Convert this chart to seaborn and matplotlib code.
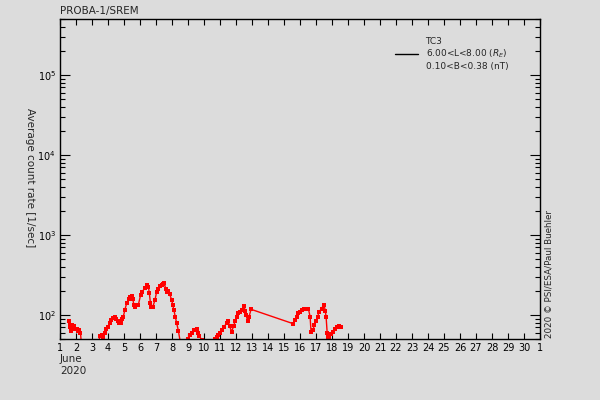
import numpy as np
import matplotlib
matplotlib.use("Agg")
import matplotlib.pyplot as plt
import matplotlib.ticker as mtick
import seaborn as sns

# day of June 2020 (fractional) and log10 of average count rate [1/sec]
days = [1.56, 1.60, 1.65, 1.70, 1.73, 1.78, 1.82, 1.88, 1.95, 2.05, 2.12, 2.20, 2.28, 2.35,
        2.8, 3.2,
        3.40, 3.50, 3.60, 3.70, 3.80, 3.90, 4.00, 4.10, 4.20, 4.30, 4.44, 4.50, 4.60, 4.70,
        4.80, 4.90, 4.96, 5.05, 5.17, 5.30, 5.40, 5.48, 5.55, 5.62, 5.69, 5.78, 5.90, 6.04,
        6.15, 6.30, 6.46, 6.52, 6.58, 6.65, 6.69, 6.80, 6.94, 7.04, 7.15, 7.25, 7.35, 7.45,
        7.52, 7.60, 7.67, 7.75, 7.85, 7.98, 8.05, 8.12, 8.20, 8.29, 8.40, 8.50,
        8.7,
        9.02, 9.12, 9.25, 9.40, 9.54, 9.60, 9.70, 9.85,
        10.2,
        10.69, 10.80, 10.90, 11.00, 11.10, 11.25, 11.42, 11.52, 11.60, 11.73, 11.85, 11.94,
        12.05, 12.15, 12.25, 12.35, 12.50, 12.58, 12.63, 12.73, 12.82, 12.94,
        15.58, 15.70, 15.79, 15.90, 16.00, 16.12, 16.25, 16.40, 16.52, 16.63, 16.69, 16.80,
        16.90, 17.00, 17.10, 17.20, 17.35, 17.50, 17.58, 17.63, 17.70, 17.76, 17.83, 17.95,
        18.08, 18.20, 18.30, 18.42, 18.54]
log_rate = [1.92, 1.85, 1.88, 1.80, 1.83, 1.87, 1.84, 1.86, 1.82, 1.83, 1.80, 1.81, 1.78, 1.60,
            1.5, 1.5,
            1.65, 1.74, 1.75, 1.73, 1.77, 1.82, 1.85, 1.90, 1.94, 1.96, 1.98, 1.95, 1.92, 1.90,
            1.90, 1.95, 1.98, 2.06, 2.15, 2.20, 2.23, 2.24, 2.20, 2.12, 2.10, 2.12, 2.13, 2.25,
            2.29, 2.34, 2.38, 2.35, 2.28, 2.15, 2.10, 2.10, 2.19, 2.29, 2.33, 2.36, 2.375, 2.39,
            2.40, 2.33, 2.29, 2.30, 2.26, 2.19, 2.12, 2.06, 1.98, 1.90, 1.80, 1.68,
            1.5,
            1.70, 1.75, 1.78, 1.81, 1.82, 1.78, 1.74, 1.69,
            1.5,
            1.70, 1.73, 1.75, 1.78, 1.81, 1.85, 1.90, 1.92, 1.86, 1.79, 1.86, 1.92,
            1.98, 2.02, 2.04, 2.06, 2.11, 2.05, 2.00, 1.92, 1.98, 2.07,
            1.89, 1.94, 1.98, 2.02, 2.04, 2.06, 2.08, 2.08, 2.08, 1.98, 1.79, 1.81,
            1.87, 1.92, 1.98, 2.04, 2.08, 2.13, 2.05, 1.98, 1.77, 1.72, 1.73, 1.76,
            1.79, 1.82, 1.85, 1.86, 1.85]
rate = [10 ** v for v in log_rate]

xtick_days = list(range(1, 32))
xtick_labels = [str(d) for d in range(1, 31)] + ["1"]
ytick_vals = [1e2, 1e3, 1e4, 1e5]
ytick_labels = ["$10^{2}$", "$10^{3}$", "$10^{4}$", "$10^{5}$"]

bg = "#dcdcdc"
sns.set_style("ticks")
plt.rcParams["font.family"] = ["DejaVu Sans"]
plt.rcParams["mathtext.fontset"] = "dejavusans"

fig = plt.figure(figsize=(6, 4), dpi=100, facecolor=bg)
ax = fig.add_axes([0.1, 0.1525, 0.8, 0.8])
ax.set_facecolor(bg)

sns.lineplot(x=days, y=rate, ax=ax, color="red", linewidth=1, marker="s",
             markersize=2.8, markeredgewidth=0, sort=False, legend=False)

ax.set_yscale("log")
ax.set_xlim(1, 31)
ax.set_ylim(50, 5e5)
ax.set_xticks(xtick_days)
ax.set_xticklabels(xtick_labels, fontsize=7)
ax.set_yticks(ytick_vals)
ax.set_yticklabels(ytick_labels, fontsize=7)
ax.yaxis.set_minor_locator(mtick.LogLocator(base=10, subs=np.arange(2, 10)))
ax.yaxis.set_minor_formatter(mtick.NullFormatter())
ax.tick_params(axis="both", which="both", direction="in", top=True, right=True,
               colors="black", width=0.8)
ax.tick_params(axis="x", which="major", length=4, pad=3)
ax.tick_params(axis="y", which="major", length=7, pad=3)
ax.tick_params(axis="y", which="minor", length=3.5)
for s in ax.spines.values():
    s.set_color("black")
    s.set_linewidth(1)
ax.set_xlabel("")
ax.set_ylabel("")

ax.plot([], [], color="black", linewidth=1,
        label="TC3\n6.00<L<8.00 ($R_E$)\n0.10<B<0.38 (nT)")
ax.legend(loc="upper left", bbox_to_anchor=(0.69, 0.955), frameon=False, fontsize=6.5,
          handlelength=2.6, handletextpad=0.8, borderaxespad=0)

fig.text(0.1, 0.973, "PROBA-1/SREM", fontsize=7.5, ha="left", va="center")
fig.text(0.05, 0.555, "Average count rate [1/sec]", fontsize=7.5, rotation=270,
         ha="center", va="center")
fig.text(0.1, 0.102, "June", fontsize=7.5, ha="left", va="center")
fig.text(0.1, 0.072, "2020", fontsize=7.5, ha="left", va="center")
fig.text(0.915, 0.155, "2020 \u00a9 PSI/ESA/Paul Buehler", fontsize=6.3, rotation=90,
         ha="center", va="bottom")

fig.savefig("out.png", dpi=100, facecolor=bg)
